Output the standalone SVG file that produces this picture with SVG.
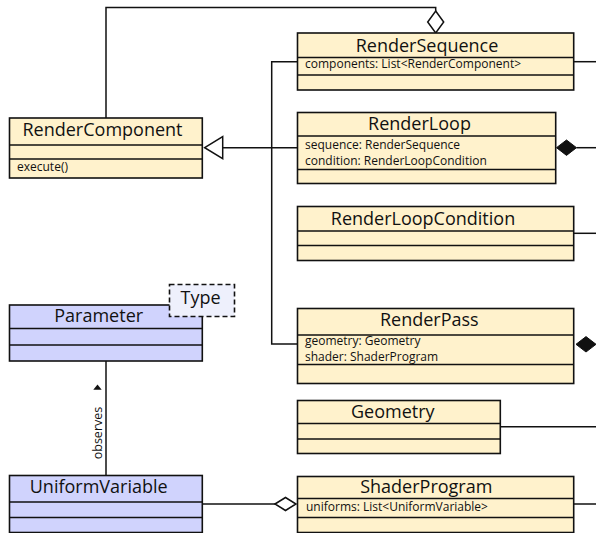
<svg xmlns="http://www.w3.org/2000/svg" width="596" height="533" viewBox="0 0 596 533">
<style>
.box{fill:#fff2cc;stroke:#111;stroke-width:1.6}
.blue{fill:#d0d3fd;stroke:#111;stroke-width:1.6}
.div{stroke:#111;stroke-width:1.6}
.ln{fill:none;stroke:#111;stroke-width:1.5}
.t{font-family:"Open Sans","Liberation Sans",sans-serif;font-size:18px;fill:#111;text-anchor:middle}
.a{font-family:"Open Sans","Liberation Sans",sans-serif;font-size:12px;fill:#111}
</style>
<rect width="596" height="533" fill="#fff"/>
<g id="connectors">
<path class="ln" d="M106,118 V7.5 H435.7 V11"/>
<polygon points="435.7,11 443.7,22 435.7,33 427.7,22" fill="#fff" stroke="#111" stroke-width="1.5"/>
<path class="ln" d="M297.5,61.7 H271.7 V344 H297.5"/>
<path class="ln" d="M297.5,147.7 H222.7"/>
<polygon points="204.7,147.7 222.7,136.7 222.7,158.7" fill="#fff" stroke="#111" stroke-width="1.5"/>
<path class="ln" d="M573.7,61.7 H596"/>
<polygon points="556.5,147.7 566.5,140 576.5,147.7 566.5,155.4" fill="#111" stroke="#111" stroke-width="1"/>
<path class="ln" d="M576.5,147.7 H596"/>
<path class="ln" d="M573.7,233.3 H596"/>
<polygon points="576,344.3 586,336.6 596,344.3 586,352" fill="#111" stroke="#111" stroke-width="1"/>
<path class="ln" d="M500.3,426.7 H596"/>
<path class="ln" d="M573.7,504 H596"/>
<path class="ln" d="M202.3,504 H275"/>
<polygon points="275,504 285.5,497.5 296,504 285.5,510.5" fill="#fff" stroke="#111" stroke-width="1.5"/>
<path class="ln" d="M106,361 V475.5"/>
<polygon points="97.5,384.5 93.3,389.7 101.7,389.7" fill="#111"/>
<text class="a" transform="rotate(-90 101.5 433)" x="101.5" y="433" style="text-anchor:middle;font-size:12.5px">observes</text>
</g>
<g id="RenderComponent">
<rect class="box" x="9.5" y="118" width="192.8" height="60"/>
<line class="div" x1="9.5" y1="145" x2="202.3" y2="145"/>
<line class="div" x1="9.5" y1="159" x2="202.3" y2="159"/>
<text class="t" x="102.5" y="136">RenderComponent</text>
<text class="a" x="17" y="171">execute()</text>
</g>
<g id="RenderSequence">
<rect class="box" x="297.5" y="33" width="276.2" height="57"/>
<line class="div" x1="297.5" y1="57.5" x2="573.7" y2="57.5"/>
<line class="div" x1="297.5" y1="75" x2="573.7" y2="75"/>
<text class="t" x="427" y="52">RenderSequence</text>
<text class="a" x="305" y="68">components: List&lt;RenderComponent&gt;</text>
</g>
<g id="RenderLoop">
<rect class="box" x="297.5" y="112.5" width="258.2" height="71"/>
<line class="div" x1="297.5" y1="136" x2="555.7" y2="136"/>
<line class="div" x1="297.5" y1="169.5" x2="555.7" y2="169.5"/>
<text class="t" x="419.5" y="129.5">RenderLoop</text>
<text class="a" x="305" y="148.5">sequence: RenderSequence</text>
<text class="a" x="305" y="165">condition: RenderLoopCondition</text>
</g>
<g id="RenderLoopCondition">
<rect class="box" x="297.5" y="206.5" width="276.2" height="54"/>
<line class="div" x1="297.5" y1="231" x2="573.7" y2="231"/>
<line class="div" x1="297.5" y1="245.5" x2="573.7" y2="245.5"/>
<text class="t" x="423" y="225">RenderLoopCondition</text>
</g>
<g id="RenderPass">
<rect class="box" x="297.5" y="308.5" width="276.2" height="75"/>
<line class="div" x1="297.5" y1="335" x2="573.7" y2="335"/>
<line class="div" x1="297.5" y1="364.5" x2="573.7" y2="364.5"/>
<text class="t" x="429.3" y="326">RenderPass</text>
<text class="a" x="305" y="344.5">geometry: Geometry</text>
<text class="a" x="305" y="361">shader: ShaderProgram</text>
</g>
<g id="Geometry">
<rect class="box" x="297.5" y="400.5" width="202.8" height="53"/>
<line class="div" x1="297.5" y1="423.5" x2="500.3" y2="423.5"/>
<line class="div" x1="297.5" y1="439" x2="500.3" y2="439"/>
<text class="t" x="392.8" y="417.7">Geometry</text>
</g>
<g id="ShaderProgram">
<rect class="box" x="297.5" y="476.5" width="276.2" height="56"/>
<line class="div" x1="297.5" y1="498.5" x2="573.7" y2="498.5"/>
<line class="div" x1="297.5" y1="517.5" x2="573.7" y2="517.5"/>
<text class="t" x="426.3" y="493.3">ShaderProgram</text>
<text class="a" x="306" y="511">uniforms: List&lt;UniformVariable&gt;</text>
</g>
<g id="Parameter">
<rect class="blue" x="9.5" y="305" width="192.8" height="56"/>
<line class="div" x1="9.5" y1="328.5" x2="202.3" y2="328.5"/>
<line class="div" x1="9.5" y1="345" x2="202.3" y2="345"/>
<text class="t" x="98.7" y="321.7">Parameter</text>
</g>
<g id="Type">
<rect x="169.5" y="284.5" width="65" height="32" fill="#eef0fc" stroke="#111" stroke-width="1.6" stroke-dasharray="5,3"/>
<text class="t" x="200.5" y="304.3">Type</text>
</g>
<g id="UniformVariable">
<rect class="blue" x="9.5" y="475.5" width="192.8" height="57"/>
<line class="div" x1="9.5" y1="502" x2="202.3" y2="502"/>
<line class="div" x1="9.5" y1="517.5" x2="202.3" y2="517.5"/>
<text class="t" x="98.7" y="492.7">UniformVariable</text>
</g>
</svg>
